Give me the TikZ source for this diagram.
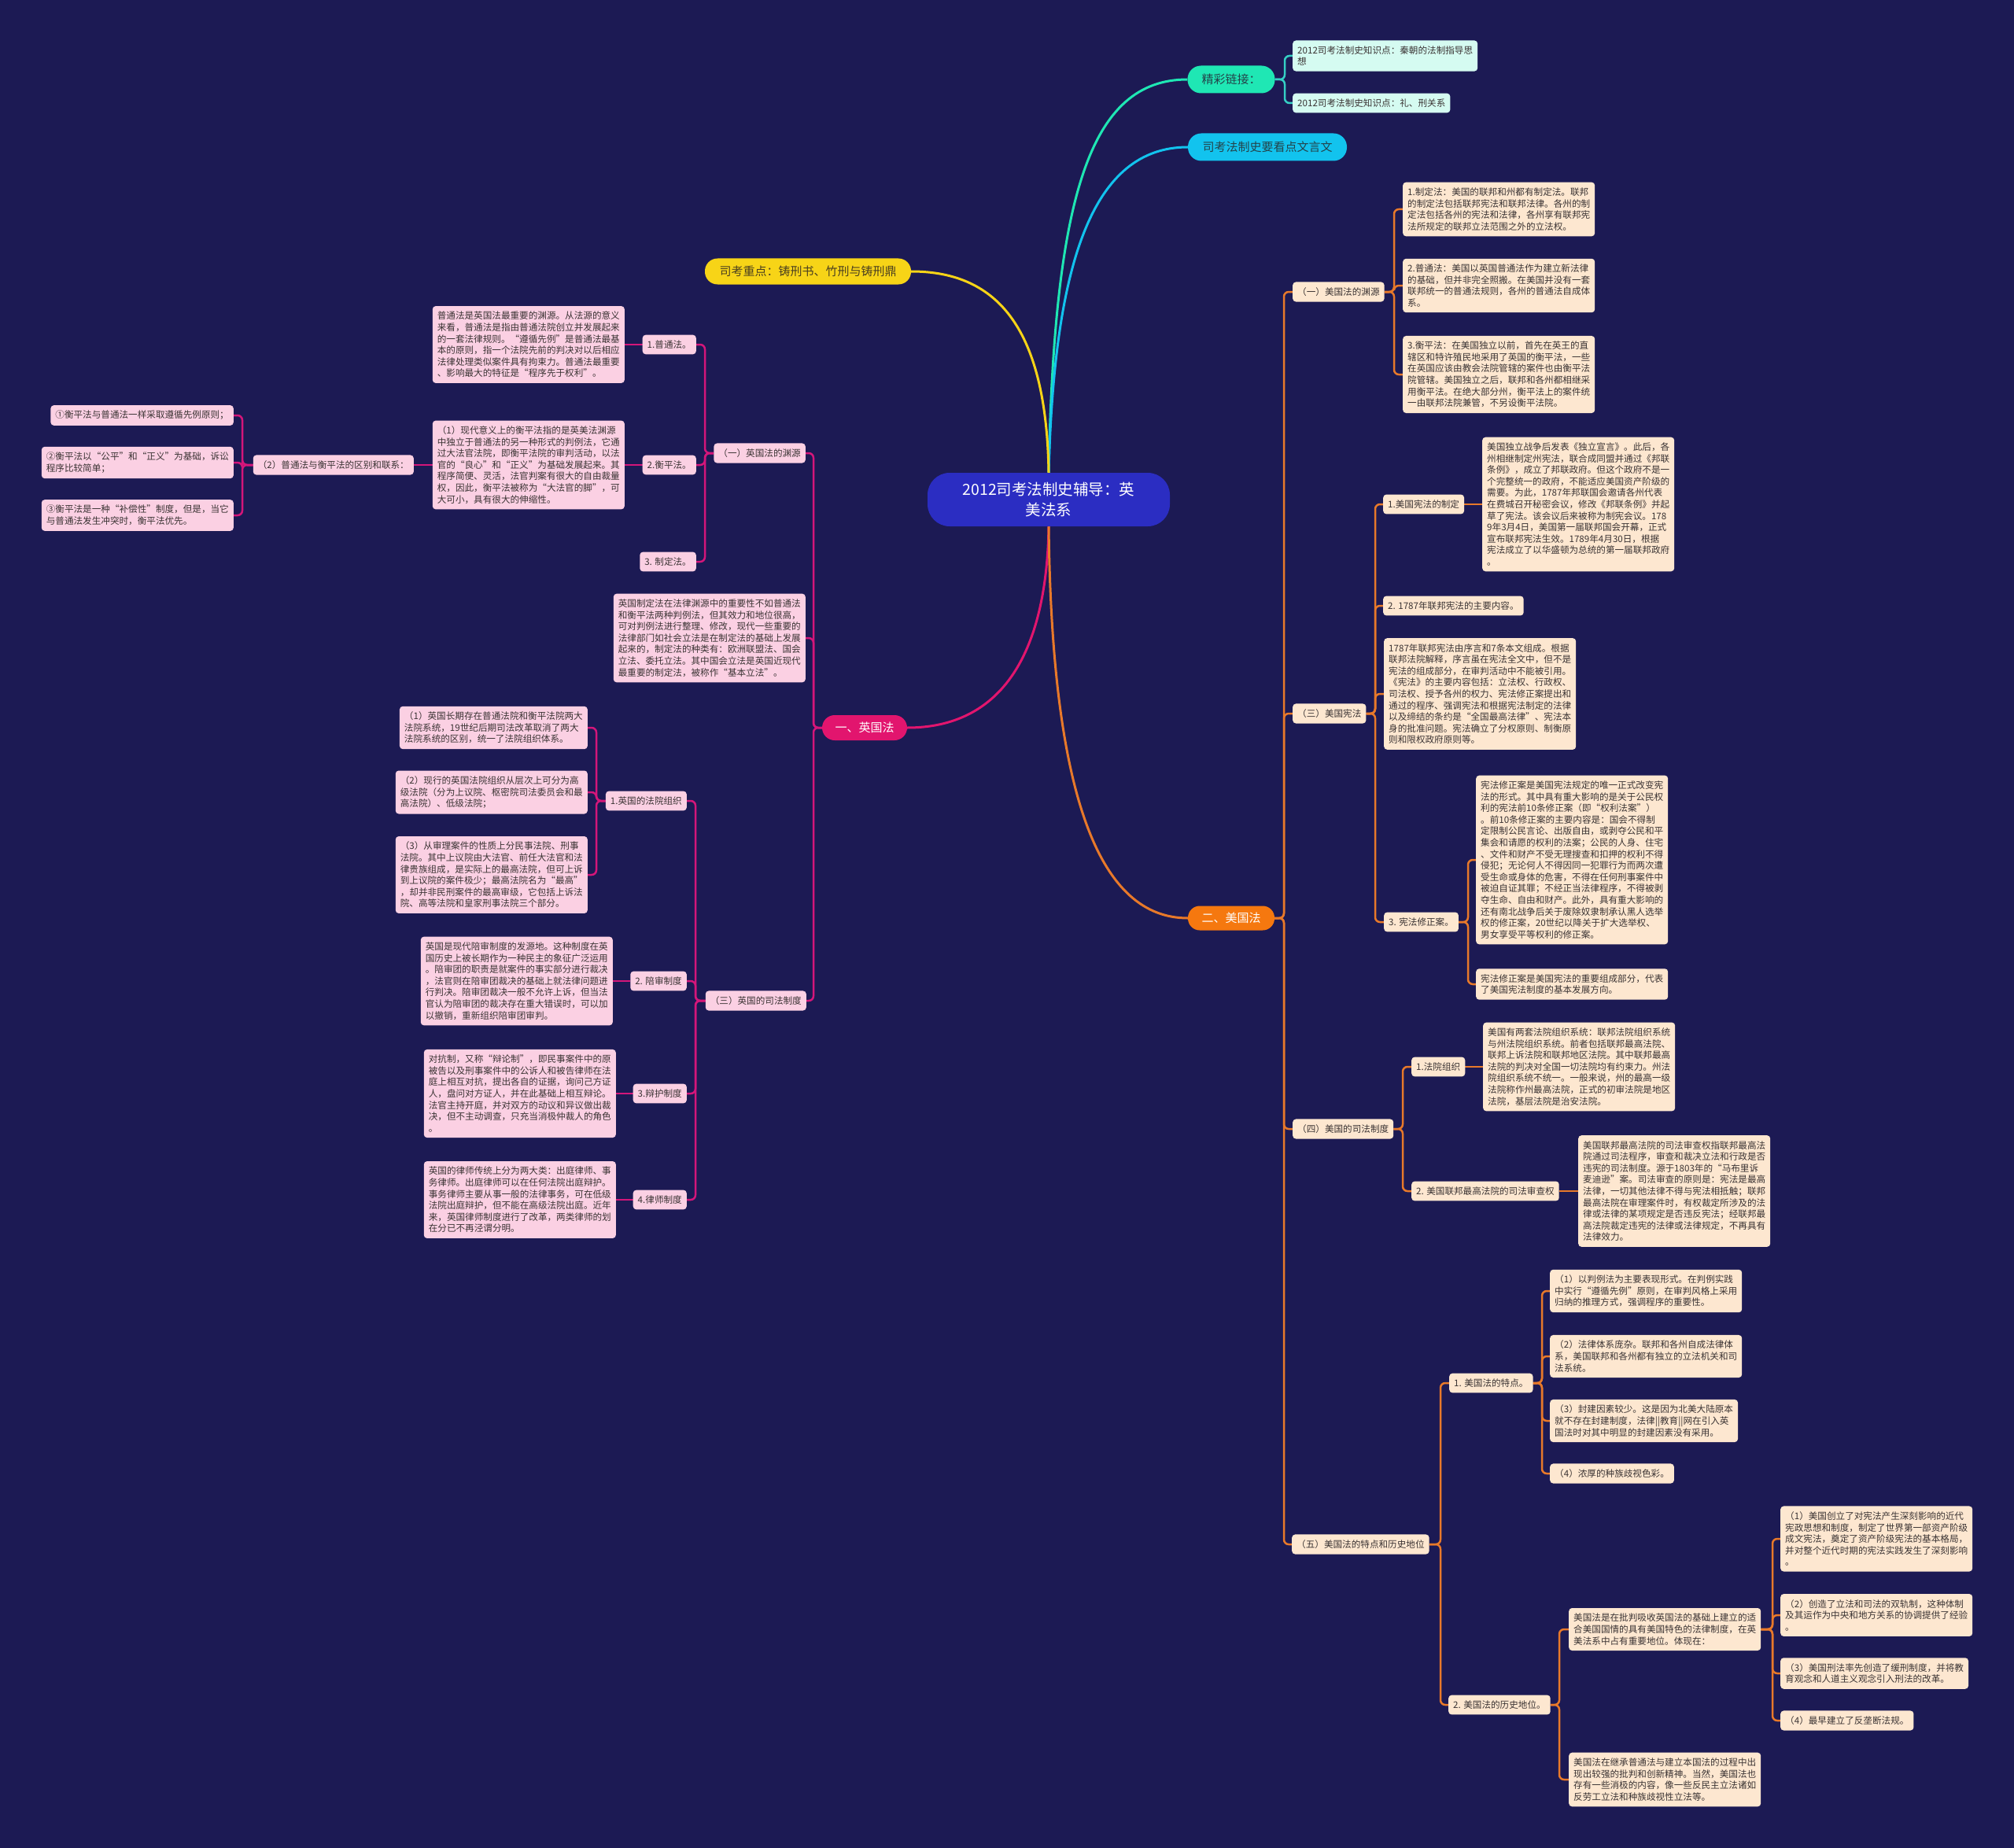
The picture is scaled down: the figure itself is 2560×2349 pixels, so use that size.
\documentclass[tikz,border=0pt]{standalone}
\usepackage{fontspec}
\setmainfont{Noto Sans CJK SC}
\usetikzlibrary{calc}
\definecolor{bgc}{HTML}{1C1A54}
\definecolor{centc}{HTML}{2B2DC2}
\definecolor{magf}{HTML}{E2156E}
\definecolor{magl}{HTML}{D4167A}
\definecolor{orf}{HTML}{F5780F}
\definecolor{orl}{HTML}{E8792A}
\definecolor{tealf}{HTML}{1FE7B4}
\definecolor{teall}{HTML}{35CFC4}
\definecolor{cyanf}{HTML}{12C3EE}
\definecolor{yelf}{HTML}{F7D417}
\definecolor{pinkc}{HTML}{FBD0E3}
\definecolor{peachc}{HTML}{FDE7D0}
\definecolor{mintc}{HTML}{D5FBF1}
\definecolor{txtc}{HTML}{3A3333}
\definecolor{pilltxt}{HTML}{24434A}
\definecolor{yeltxt}{HTML}{4A3F20}
\pgfdeclarelayer{back}
\pgfdeclarelayer{lines}
\pgfsetlayers{back,lines,main}
\newcommand\boxfont{\fontsize{11.6}{14.6}\selectfont}
\newcommand\pillfont{\fontsize{15}{18}\selectfont}
\tikzset{
  box/.style={rectangle, rounded corners=4pt, align=left, inner xsep=6pt, inner ysep=7pt, text=txtc, font=\boxfont},
  pk/.style={box, fill=pinkc},
  pc/.style={box, fill=peachc},
  mt/.style={box, fill=mintc},
  pill/.style={rectangle, rounded corners=15pt, font=\pillfont, align=center, inner sep=0pt},
  ml/.style={draw=magl, line width=2.5pt, rounded corners=6pt},
  ol/.style={draw=orl, line width=2.5pt, rounded corners=6pt},
  tl/.style={draw=teall, line width=2.5pt, rounded corners=6pt},
  trunk/.style={line width=3pt}
}
\begin{document}
\begin{tikzpicture}[x=1pt,y=-1pt]
\begin{pgfonlayer}{back}
\fill[bgc] (0,0) rectangle (2560,2349);
\end{pgfonlayer}
\useasboundingbox (0,0) rectangle (2560,2349);

% ---------- main nodes
\node[rectangle, rounded corners=28pt, fill=centc, text=white, minimum width=308pt, minimum height=68pt, align=center, font=\fontsize{19.5}{26}\selectfont, inner sep=0pt] (c) at (1333,635) {2012司考法制史辅导：英\\美法系};
\node[pill, fill=tealf, text=pilltxt, minimum width=111pt, minimum height=35pt, rounded corners=17pt] (lk) at (1565,101) {精彩链接：};
\node[mt, anchor=west] (lk1) at (1643,71) {2012司考法制史知识点：秦朝的法制指导思\\想};
\node[mt, anchor=west] (lk2) at (1643,131) {2012司考法制史知识点：礼、刑关系};
\node[pill, fill=cyanf, text=pilltxt, minimum width=202pt, minimum height=35pt, rounded corners=17pt] (cy) at (1611,187) {司考法制史要看点文言文};
\node[pill, fill=yelf, text=yeltxt, minimum width=262pt, minimum height=33pt, rounded corners=16pt] (ye) at (1027,345) {司考重点：铸刑书、竹刑与铸刑鼎};
\node[pill, fill=magf, text=white, minimum width=108pt, minimum height=32pt, rounded corners=16pt] (en) at (1099,925) {一、英国法};
\node[pill, fill=orf, text=white, minimum width=110pt, minimum height=31pt, rounded corners=15pt] (am) at (1565,1167) {二、美国法};

% ---------- spine coordinates
\coordinate (slk) at (1633,0);
\coordinate (sen) at (1034,0);
\coordinate (se1) at (896,0);
\coordinate (se1211) at (308,0);
\coordinate (se3) at (884,0);
\coordinate (se31) at (758,0);
\coordinate (sam) at (1632,0);
\coordinate (sa1) at (1772,0);
\coordinate (sa3) at (1748,0);
\coordinate (sa34) at (1866,0);
\coordinate (sa4) at (1783,0);
\coordinate (sa5) at (1831,0);
\coordinate (sa51) at (1960,0);
\coordinate (sa52) at (1982,0);
\coordinate (sa521) at (2253,0);

% ---------- English side
\node[pk, anchor=east] (e1) at (1024,576) {（一）英国法的渊源};
\node[pk, anchor=east] (e11) at (885,438) {1.普通法。};
\node[pk, anchor=east] (e111) at (794,438) {普通法是英国法最重要的渊源。从法源的意义\\来看，普通法是指由普通法院创立并发展起来\\的一套法律规则。“遵循先例”是普通法最基\\本的原则，指一个法院先前的判决对以后相应\\法律处理类似案件具有拘束力。普通法最重要\\、影响最大的特征是“程序先于权利”。};
\node[pk, anchor=east] (e12) at (885,591) {2.衡平法。};
\node[pk, anchor=east] (e121) at (794,591) {（1）现代意义上的衡平法指的是英美法渊源\\中独立于普通法的另一种形式的判例法，它通\\过大法官法院，即衡平法院的审判活动，以法\\官的“良心”和“正义”为基础发展起来。其\\程序简便、灵活，法官判案有很大的自由裁量\\权，因此，衡平法被称为“大法官的脚”，可\\大可小，具有很大的伸缩性。};
\node[pk, anchor=east] (e1211) at (526,591) {（2）普通法与衡平法的区别和联系：};
\node[pk, anchor=east] (e12111) at (297,528) {①衡平法与普通法一样采取遵循先例原则；};
\node[pk, anchor=east] (e12112) at (297,588) {②衡平法以“公平”和“正义”为基础，诉讼\\程序比较简单；};
\node[pk, anchor=east] (e12113) at (297,655) {③衡平法是一种“补偿性”制度，但是，当它\\与普通法发生冲突时，衡平法优先。};
\node[pk, anchor=east] (e13) at (885,714) {3. 制定法。};
\node[pk, anchor=east] (e2) at (1024,811) {英国制定法在法律渊源中的重要性不如普通法\\和衡平法两种判例法，但其效力和地位很高，\\可对判例法进行整理、修改，现代一些重要的\\法律部门如社会立法是在制定法的基础上发展\\起来的，制定法的种类有：欧洲联盟法、国会\\立法、委托立法。其中国会立法是英国近现代\\最重要的制定法，被称作“基本立法”。};
\node[pk, anchor=east] (e3) at (1025,1272) {（三）英国的司法制度};
\node[pk, anchor=east] (e31) at (873,1018) {1.英国的法院组织};
\node[pk, anchor=east] (e311) at (747,925) {（1）英国长期存在普通法院和衡平法院两大\\法院系统，19世纪后期司法改革取消了两大\\法院系统的区别，统一了法院组织体系。};
\node[pk, anchor=east] (e312) at (747,1007) {（2）现行的英国法院组织从层次上可分为高\\级法院（分为上议院、枢密院司法委员会和最\\高法院）、低级法院；};
\node[pk, anchor=east] (e313) at (747,1112) {（3）从审理案件的性质上分民事法院、刑事\\法院。其中上议院由大法官、前任大法官和法\\律贵族组成，是实际上的最高法院，但可上诉\\到上议院的案件极少；最高法院名为“最高”\\，却并非民刑案件的最高审级，它包括上诉法\\院、高等法院和皇家刑事法院三个部分。};
\node[pk, anchor=east] (e32) at (873,1247) {2. 陪审制度};
\node[pk, anchor=east] (e321) at (779,1247) {英国是现代陪审制度的发源地。这种制度在英\\国历史上被长期作为一种民主的象征广泛运用\\。陪审团的职责是就案件的事实部分进行裁决\\，法官则在陪审团裁决的基础上就法律问题进\\行判决。陪审团裁决一般不允许上诉，但当法\\官认为陪审团的裁决存在重大错误时，可以加\\以撤销，重新组织陪审团审判。};
\node[pk, anchor=east] (e33) at (873,1390) {3.辩护制度};
\node[pk, anchor=east] (e331) at (783,1390) {对抗制，又称“辩论制”，即民事案件中的原\\被告以及刑事案件中的公诉人和被告律师在法\\庭上相互对抗，提出各自的证据，询问己方证\\人，盘问对方证人，并在此基础上相互辩论。\\法官主持开庭，并对双方的动议和异议做出裁\\决，但不主动调查，只充当消极仲裁人的角色\\。};
\node[pk, anchor=east] (e34) at (873,1525) {4.律师制度};
\node[pk, anchor=east] (e341) at (783,1525) {英国的律师传统上分为两大类：出庭律师、事\\务律师。出庭律师可以在任何法院出庭辩护。\\事务律师主要从事一般的法律事务，可在低级\\法院出庭辩护，但不能在高级法院出庭。近年\\来，英国律师制度进行了改革，两类律师的划\\在分已不再泾谓分明。};

% ---------- American side
\node[pc, anchor=west] (a1) at (1643,371) {（一）美国法的渊源};
\node[pc, anchor=west] (a11) at (1783,266) {1.制定法：美国的联邦和州都有制定法。联邦\\的制定法包括联邦宪法和联邦法律。各州的制\\定法包括各州的宪法和法律，各州享有联邦宪\\法所规定的联邦立法范围之外的立法权。};
\node[pc, anchor=west] (a12) at (1783,363) {2.普通法：美国以英国普通法作为建立新法律\\的基础，但并非完全照搬。在美国并没有一套\\联邦统一的普通法规则，各州的普通法自成体\\系。};
\node[pc, anchor=west] (a13) at (1783,476) {3.衡平法：在美国独立以前，首先在英王的直\\辖区和特许殖民地采用了英国的衡平法，一些\\在英国应该由教会法院管辖的案件也由衡平法\\院管辖。美国独立之后，联邦和各州都相继采\\用衡平法。在绝大部分州，衡平法上的案件统\\一由联邦法院兼管，不另设衡平法院。};
\node[pc, anchor=west] (a3) at (1643,907) {（三）美国宪法};
\node[pc, anchor=west] (a31) at (1758,641) {1.美国宪法的制定};
\node[pc, anchor=west] (a311) at (1884,641) {美国独立战争后发表《独立宣言》。此后，各\\州相继制定州宪法，联合成同盟并通过《邦联\\条例》，成立了邦联政府。但这个政府不是一\\个完整统一的政府，不能适应美国资产阶级的\\需要。为此，1787年邦联国会邀请各州代表\\在费城召开秘密会议，修改《邦联条例》并起\\草了宪法。该会议后来被称为制宪会议。178\\9年3月4日，美国第一届联邦国会开幕，正式\\宣布联邦宪法生效。1789年4月30日，根据\\宪法成立了以华盛顿为总统的第一届联邦政府\\。};
\node[pc, anchor=west] (a32) at (1758,770) {2. 1787年联邦宪法的主要内容。};
\node[pc, anchor=west] (a33) at (1759,882) {1787年联邦宪法由序言和7条本文组成。根据\\联邦法院解释，序言虽在宪法全文中，但不是\\宪法的组成部分，在审判活动中不能被引用。\\《宪法》的主要内容包括：立法权、行政权、\\司法权、授予各州的权力、宪法修正案提出和\\通过的程序、强调宪法和根据宪法制定的法律\\以及缔结的条约是“全国最高法律”、宪法本\\身的批准问题。宪法确立了分权原则、制衡原\\则和限权政府原则等。};
\node[pc, anchor=west] (a34) at (1759,1172) {3. 宪法修正案。};
\node[pc, anchor=west] (a341) at (1876,1093) {宪法修正案是美国宪法规定的唯一正式改变宪\\法的形式。其中具有重大影响的是关于公民权\\利的宪法前10条修正案（即“权利法案”）\\。前10条修正案的主要内容是：国会不得制\\定限制公民言论、出版自由，或剥夺公民和平\\集会和请愿的权利的法案；公民的人身、住宅\\、文件和财产不受无理搜查和扣押的权利不得\\侵犯；无论何人不得因同一犯罪行为而两次遭\\受生命或身体的危害，不得在任何刑事案件中\\被迫自证其罪；不经正当法律程序，不得被剥\\夺生命、自由和财产。此外，具有重大影响的\\还有南北战争后关于废除奴隶制承认黑人选举\\权的修正案，20世纪以降关于扩大选举权、\\男女享受平等权利的修正案。};
\node[pc, anchor=west] (a342) at (1876,1251) {宪法修正案是美国宪法的重要组成部分，代表\\了美国宪法制度的基本发展方向。};
\node[pc, anchor=west] (a4) at (1643,1435) {（四）美国的司法制度};
\node[pc, anchor=west] (a41) at (1794,1356) {1.法院组织};
\node[pc, anchor=west] (a411) at (1885,1356) {美国有两套法院组织系统：联邦法院组织系统\\与州法院组织系统。前者包括联邦最高法院、\\联邦上诉法院和联邦地区法院。其中联邦最高\\法院的判决对全国一切法院均有约束力。州法\\院组织系统不统一。一般来说，州的最高一级\\法院称作州最高法院，正式的初审法院是地区\\法院，基层法院是治安法院。};
\node[pc, anchor=west] (a42) at (1794,1514) {2. 美国联邦最高法院的司法审查权};
\node[pc, anchor=west] (a421) at (2006,1514) {美国联邦最高法院的司法审查权指联邦最高法\\院通过司法程序，审查和裁决立法和行政是否\\违宪的司法制度。源于1803年的“马布里诉\\麦迪逊”案。司法审查的原则是：宪法是最高\\法律，一切其他法律不得与宪法相抵触；联邦\\最高法院在审理案件时，有权裁定所涉及的法\\律或法律的某项规定是否违反宪法；经联邦最\\高法院裁定违宪的法律或法律规定，不再具有\\法律效力。};
\node[pc, anchor=west] (a5) at (1642,1963) {（五）美国法的特点和历史地位};
\node[pc, anchor=west] (a51) at (1842,1758) {1. 美国法的特点。};
\node[pc, anchor=west] (a511) at (1970,1641) {（1）以判例法为主要表现形式。在判例实践\\中实行“遵循先例”原则，在审判风格上采用\\归纳的推理方式，强调程序的重要性。};
\node[pc, anchor=west] (a512) at (1970,1724) {（2）法律体系庞杂。联邦和各州自成法律体\\系，美国联邦和各州都有独立的立法机关和司\\法系统。};
\node[pc, anchor=west] (a513) at (1970,1806) {（3）封建因素较少。这是因为北美大陆原本\\就不存在封建制度，法律||教育||网在引入英\\国法时对其中明显的封建因素没有采用。};
\node[pc, anchor=west] (a514) at (1970,1873) {（4）浓厚的种族歧视色彩。};
\node[pc, anchor=west] (a52) at (1841,2167) {2. 美国法的历史地位。};
\node[pc, anchor=west] (a521) at (1994,2071) {美国法是在批判吸收英国法的基础上建立的适\\合美国国情的具有美国特色的法律制度，在英\\美法系中占有重要地位。体现在：};
\node[pc, anchor=west] (a5211) at (2263,1956) {（1）美国创立了对宪法产生深刻影响的近代\\宪政思想和制度，制定了世界第一部资产阶级\\成文宪法，奠定了资产阶级宪法的基本格局，\\并对整个近代时期的宪法实践发生了深刻影响\\。};
\node[pc, anchor=west] (a5212) at (2263,2053) {（2）创造了立法和司法的双轨制，这种体制\\及其运作为中央和地方关系的协调提供了经验\\。};
\node[pc, anchor=west] (a5213) at (2263,2127) {（3）美国刑法率先创造了缓刑制度，并将教\\育观念和人道主义观念引入刑法的改革。};
\node[pc, anchor=west] (a5214) at (2263,2187) {（4）最早建立了反垄断法规。};
\node[pc, anchor=west] (a522) at (1994,2262) {美国法在继承普通法与建立本国法的过程中出\\现出较强的批判和创新精神。当然，美国法也\\存有一些消极的内容，像一些反民主立法诸如\\反劳工立法和种族歧视性立法等。};

% ---------- connectors
\begin{pgfonlayer}{lines}
\draw[trunk, draw=tealf] (c.north) .. controls (1340,250) and (1385,101) .. (lk.west);
\draw[trunk, draw=cyanf] (c.north) .. controls (1340,330) and (1390,187) .. (cy.west);
\draw[trunk, draw=yelf] (c.north) .. controls (1330,420) and (1270,345) .. (ye.east);
\draw[trunk, draw=magf] (c.south) .. controls (1330,850) and (1260,925) .. (en.east);
\draw[trunk, draw=orl] (c.south) .. controls (1337,1020) and (1400,1167) .. (am.west);

\draw[tl] (lk.east) -- (lk.east -| slk) |- (lk1.west);
\draw[tl] (lk.east) -- (lk.east -| slk) |- (lk2.west);

\foreach \ch in {e1,e2,e3} \draw[ml] (en.west) -- (en.west -| sen) |- (\ch.east);
\foreach \ch in {e11,e12,e13} \draw[ml] (e1.west) -- (e1.west -| se1) |- (\ch.east);
\draw[ml] (e11.west) -- (e111.east);
\draw[ml] (e12.west) -- (e121.east);
\draw[ml] (e121.west) -- (e1211.east);
\foreach \ch in {e12111,e12112,e12113} \draw[ml] (e1211.west) -- (e1211.west -| se1211) |- (\ch.east);
\foreach \ch in {e31,e32,e33,e34} \draw[ml] (e3.west) -- (e3.west -| se3) |- (\ch.east);
\foreach \ch in {e311,e312,e313} \draw[ml] (e31.west) -- (e31.west -| se31) |- (\ch.east);
\draw[ml] (e32.west) -- (e321.east);
\draw[ml] (e33.west) -- (e331.east);
\draw[ml] (e34.west) -- (e341.east);

\foreach \ch in {a1,a3,a4,a5} \draw[ol] (am.east) -- (am.east -| sam) |- (\ch.west);
\foreach \ch in {a11,a12,a13} \draw[ol] (a1.east) -- (a1.east -| sa1) |- (\ch.west);
\foreach \ch in {a31,a32,a33,a34} \draw[ol] (a3.east) -- (a3.east -| sa3) |- (\ch.west);
\draw[ol] (a31.east) -- (a311.west);
\foreach \ch in {a341,a342} \draw[ol] (a34.east) -- (a34.east -| sa34) |- (\ch.west);
\foreach \ch in {a41,a42} \draw[ol] (a4.east) -- (a4.east -| sa4) |- (\ch.west);
\draw[ol] (a41.east) -- (a411.west);
\draw[ol] (a42.east) -- (a421.west);
\foreach \ch in {a51,a52} \draw[ol] (a5.east) -- (a5.east -| sa5) |- (\ch.west);
\foreach \ch in {a511,a512,a513,a514} \draw[ol] (a51.east) -- (a51.east -| sa51) |- (\ch.west);
\foreach \ch in {a521,a522} \draw[ol] (a52.east) -- (a52.east -| sa52) |- (\ch.west);
\foreach \ch in {a5211,a5212,a5213,a5214} \draw[ol] (a521.east) -- (a521.east -| sa521) |- (\ch.west);
\end{pgfonlayer}
\end{tikzpicture}
\end{document}
